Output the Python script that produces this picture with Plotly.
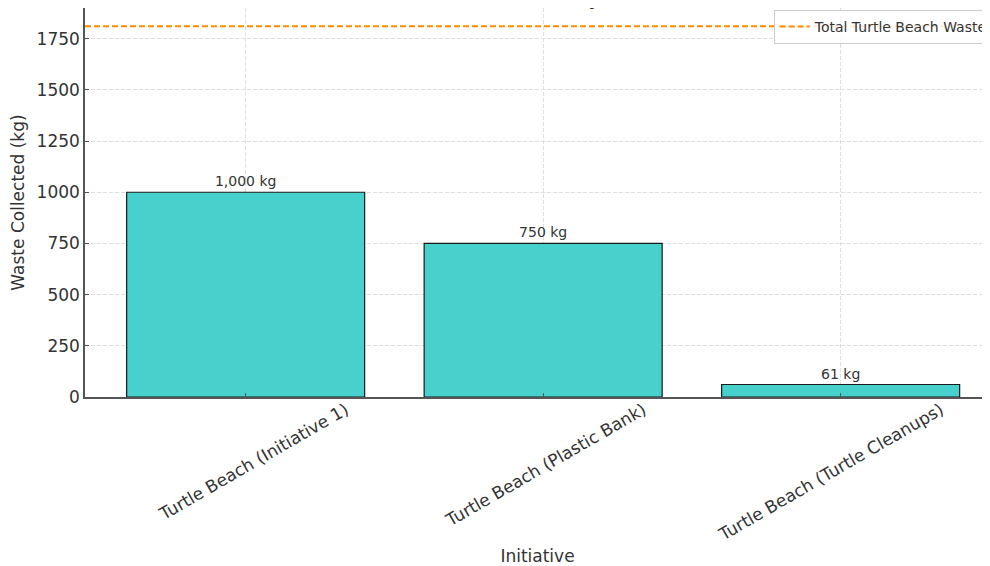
import plotly.graph_objects as go

initiatives = ["Turtle Beach (Initiative 1)", "Turtle Beach (Plastic Bank)", "Turtle Beach (Turtle Cleanups)"]
waste_kg = [1000, 750, 61]
bar_labels = ["1,000 kg", "750 kg", "61 kg"]
y_ticks = [0, 250, 500, 750, 1000, 1250, 1500, 1750]
total_waste = sum(waste_kg)

FONT = "DejaVu Sans"
TXT = "#333333"

fig = go.Figure()
fig.add_trace(go.Bar(
    x=initiatives, y=waste_kg, width=0.8,
    marker=dict(color="#48D1CC", line=dict(color="#1a1a1a", width=1.2)),
    text=bar_labels, textposition="outside", cliponaxis=False,
    textfont=dict(family=FONT, size=14, color=TXT),
    showlegend=False,
))

fig.add_shape(
    type="line", xref="x domain", yref="y", x0=0, x1=1, y0=total_waste, y1=total_waste,
    line=dict(color="#FF8C00", width=2, dash="6px,3px"),
    showlegend=True, name="Total Turtle Beach Waste",
)

# the page body adds an 8px offset; figure sized to fit the 990x566 window
fig.update_layout(
    width=982, height=558,
    margin=dict(l=77, r=0, t=0, b=169, autoexpand=False),
    plot_bgcolor="white", paper_bgcolor="white",
    font=dict(family=FONT, color=TXT),
    title=dict(
        text="<b>Waste Collected at Turtle Beach by Initiative (Estimated Data)</b>",
        font=dict(family=FONT, size=17, color="#222222"),
        x=0.565, xanchor="center", yref="container", y=1.0, yanchor="bottom",
        pad=dict(b=3),
    ),
    legend=dict(
        x=0.761, y=0.995, xanchor="left", yanchor="top",
        bgcolor="rgba(255,255,255,0.85)", bordercolor="#cccccc", borderwidth=1,
        font=dict(family=FONT, size=14, color=TXT),
    ),
    xaxis=dict(
        title=dict(text="Initiative", font=dict(family=FONT, size=17, color=TXT), standoff=8),
        automargin=False,
        range=[-0.54, 2.502],
        tickangle=-30, ticklabelshift=100, ticklabelstandoff=-5,
        tickfont=dict(family=FONT, size=17, color=TXT),
        showgrid=True, gridcolor="#dedede", griddash="4px,2px", gridwidth=1,
        showline=True, linecolor="#555555", linewidth=1.5,
        ticks="inside", ticklen=4, tickcolor="#555555",
    ),
    yaxis=dict(
        title=dict(text="Waste Collected (kg)", font=dict(family=FONT, size=17, color=TXT), standoff=8),
        automargin=False,
        range=[0, 1900],
        tickvals=y_ticks,
        tickfont=dict(family=FONT, size=17, color=TXT),
        showgrid=True, gridcolor="#dedede", griddash="4px,2px", gridwidth=1,
        showline=True, linecolor="#555555", linewidth=1.5,
        ticks="inside", ticklen=4, tickcolor="#555555",
        zeroline=False,
    ),
)

fig.write_html("out.html")
